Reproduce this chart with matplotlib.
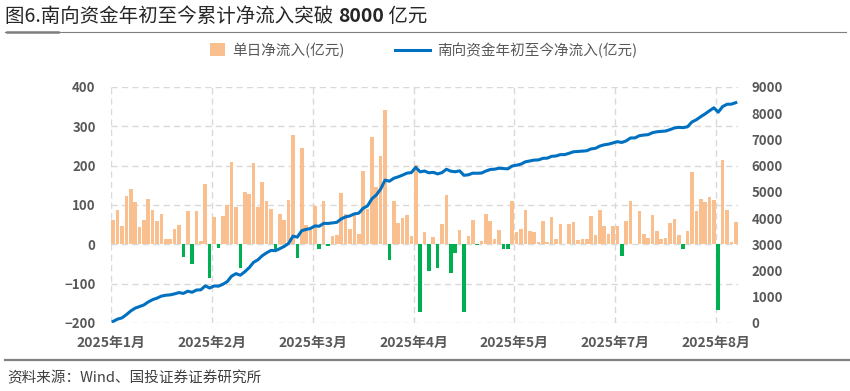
import matplotlib.pyplot as plt
from matplotlib.lines import Line2D
from matplotlib.patches import Patch

plt.rcParams['font.family'] = ['Noto Sans CJK SC', 'DejaVu Sans']

# 单日净流入(亿元), one value per trading day
daily_flow = [
    61, 86, 47, 122, 141, 107, 43, 61, 114, 88, 58, 77, 13, 14, 38, 49, -32, 85, -51, 85, 8, 153, -85,
    70, -9, 72, 101, 209, 96, -60, 132, 128, 206, 96, 158, 111, 91, -11, 77, 61, 113, 278, -36, 245, 48, 36,
    97, -11, 109, -4, 20, 23, 131, 77, 38, 77, 26, 186, 91, 272, 145, 225, 341, -39, 111, 53, 68, 74, 21,
    201, -172, 31, -68, 18, -60, 51, 126, -73, -22, 36, -172, 20, 61, -2, 8, 77, 58, 13, 36, -11, -13, 109,
    31, 40, 88, 35, 31, 7, 60, 7, 70, 13, 52, 1, 51, 57, 11, 13, 14, 71, 23, 86, 47, 26, 47,
    46, -29, 60, 111, 2, 84, 25, 15, 75, 35, 14, 15, 53, 64, 23, -11, 33, 183, 85, 116, 107, 120, 112,
    -166, 215, 86, 5, 57,
]

# 南向资金年初至今净流入(亿元)
cum_flow = [
    61, 147, 194, 316, 457, 564, 627, 688, 802, 890, 948, 1025, 1058, 1072, 1110, 1159, 1127, 1212, 1171, 1256, 1264, 1417, 1332,
    1412, 1403, 1475, 1576, 1785, 1881, 1821, 1953, 2106, 2312, 2408, 2566, 2677, 2768, 2757, 2834, 2920, 3033, 3311, 3275, 3520, 3568, 3604,
    3701, 3690, 3799, 3795, 3815, 3838, 3969, 4046, 4084, 4161, 4187, 4373, 4464, 4736, 4881, 5106, 5447, 5408, 5519, 5572, 5640, 5714, 5735,
    5936, 5764, 5795, 5727, 5745, 5685, 5736, 5862, 5789, 5767, 5803, 5631, 5651, 5712, 5710, 5718, 5795, 5853, 5866, 5902, 5891, 5878, 5987,
    6018, 6058, 6146, 6181, 6212, 6219, 6279, 6286, 6356, 6369, 6421, 6422, 6473, 6530, 6541, 6554, 6568, 6639, 6662, 6748, 6795, 6821, 6868,
    6914, 6885, 6945, 7056, 7058, 7142, 7167, 7182, 7257, 7292, 7306, 7321, 7374, 7438, 7461, 7450, 7483, 7666, 7751, 7867, 7974, 8094, 8206,
    8040, 8255, 8341, 8346, 8403,
]

month_labels = ['2025年1月', '2025年2月', '2025年3月', '2025年4月', '2025年5月', '2025年7月', '2025年8月']
label_every = 23

orange = '#F9BF8E'
green = '#00B050'
blue = '#0070C0'
grey_txt = '#595959'
grid_c = '#D9D9D9'

fig = plt.figure(figsize=(8.5, 3.91), dpi=100)
ax = fig.add_axes([0.1306, 0.174, 0.7376, 0.6035])

x = list(range(len(daily_flow)))
bar_colors = [orange if v >= 0 else green for v in daily_flow]
ax.bar(x, daily_flow, width=0.82, color=bar_colors, zorder=2)

ax.set_xlim(-0.5, len(daily_flow) - 0.5)
ax.set_ylim(-200, 400)
ax.set_yticks(range(-200, 401, 100))
ax.set_xticks([-0.5 + label_every * i for i in range(len(month_labels))])
ax.set_xticklabels(month_labels)
ax.grid(True, color=grid_c, linestyle=(0, (4.5, 3)), linewidth=1.0, zorder=0)
ax.set_axisbelow(True)
ax.tick_params(axis='y', length=0, pad=11, labelsize=9.5, labelcolor=grey_txt)
ax.tick_params(axis='x', length=0, pad=9, labelsize=10, labelcolor=grey_txt)
for lab in ax.get_xticklabels() + ax.get_yticklabels():
    lab.set_fontweight('bold')
for s in ax.spines.values():
    s.set_visible(False)

ax2 = ax.twinx()
ax2.plot(x, cum_flow, color=blue, linewidth=2.2, zorder=3)
ax2.set_ylim(0, 9000)
ax2.set_yticks(range(0, 9001, 1000))
ax2.tick_params(axis='y', length=0, pad=10, labelsize=9.5, labelcolor=grey_txt)
for lab in ax2.get_yticklabels():
    lab.set_fontweight('bold')
for s in ax2.spines.values():
    s.set_visible(False)

# legends
leg1 = fig.legend([Patch(facecolor=orange)], ['单日净流入(亿元)'], loc='center',
                  bbox_to_anchor=(0.326, 0.872), frameon=False, fontsize=10.5,
                  handlelength=1.0, handleheight=1.0, handletextpad=0.5, labelcolor=grey_txt)
leg2 = fig.legend([Line2D([], [], color=blue, linewidth=2.2)], ['南向资金年初至今净流入(亿元)'],
                  loc='center', bbox_to_anchor=(0.607, 0.872), frameon=False, fontsize=10.5,
                  handlelength=2.4, handletextpad=0.5, labelcolor=grey_txt)

# title, with the number in bold
renderer = fig.canvas.get_renderer()
t1 = fig.text(0.006, 0.958, '图6.南向资金年初至今累计净流入突破 ', fontsize=14,
              color='#262626', va='center', ha='left')
bb = t1.get_window_extent(renderer).transformed(fig.transFigure.inverted())
t2 = fig.text(bb.x1, 0.958, '8000', fontsize=14, fontweight='bold',
              color='#262626', va='center', ha='left')
bb = t2.get_window_extent(renderer).transformed(fig.transFigure.inverted())
fig.text(bb.x1, 0.958, ' 亿元', fontsize=14, color='#262626', va='center', ha='left')

fig.add_artist(Line2D([0.006, 0.995], [0.919, 0.919], color='#7F7F7F', linewidth=0.8))
fig.add_artist(Line2D([0.008, 0.068], [0.919, 0.919], color='#7F7F7F', linewidth=1.8))

# source note
fig.add_artist(Line2D([0.006, 1.0], [0.079, 0.079], color='#808080', linewidth=1.6))
fig.text(0.008, 0.033, '资料来源：Wind、国投证券证券研究所', fontsize=10.5, style='italic',
         color='#404040', va='center', ha='left')

fig.savefig('out.png', dpi=100)
